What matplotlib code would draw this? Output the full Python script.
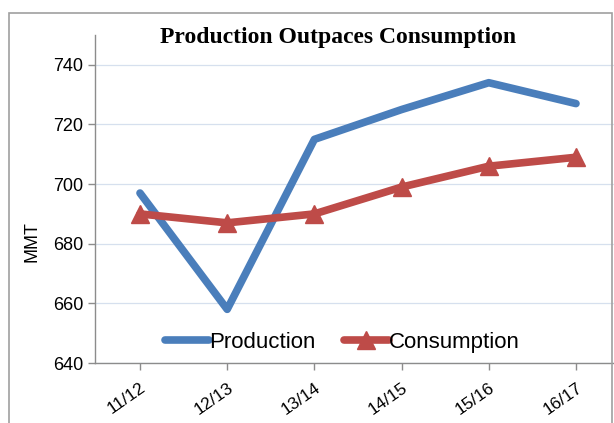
import matplotlib
matplotlib.use("Agg")
import matplotlib.pyplot as plt
from matplotlib.patches import Rectangle

years = ["11/12", "12/13", "13/14", "14/15", "15/16", "16/17"]
production = [697, 658, 715, 725, 734, 727]
consumption = [690, 687, 690, 699, 706, 709]
y_ticks = [640, 660, 680, 700, 720, 740]

BLUE = "#4A7EBB"
RED = "#BE4B48"
GRAY = "#8C8C8C"

fig = plt.figure(figsize=(6.14, 4.23), dpi=100)
ax = fig.add_axes([95 / 614, 60 / 423, 1 - 95 / 614, (363 - 35) / 423])

x = list(range(len(years)))
ax.plot(x, production, color=BLUE, linewidth=5.5, solid_capstyle="round",
        solid_joinstyle="round", label="Production")
ax.plot(x, consumption, color=RED, linewidth=5.5, solid_capstyle="round",
        solid_joinstyle="round", marker="^", markersize=13, label="Consumption")

ax.set_xlim(-0.516, 5.436)
ax.set_ylim(640, 750)
ax.set_yticks(y_ticks)
ax.set_yticklabels([str(v) for v in y_ticks], fontsize=13, family="Liberation Sans")
ax.set_xticks(x)
ax.set_xticklabels(years, rotation=35, ha="right", rotation_mode="anchor",
                   fontsize=12.5, family="Liberation Sans")
ax.grid(True, axis="y", color="#D6E0EE", linewidth=0.9)
ax.set_axisbelow(True)

for s in ["top", "right"]:
    ax.spines[s].set_visible(False)
for s in ["left", "bottom"]:
    ax.spines[s].set_color(GRAY)
    ax.spines[s].set_linewidth(1.0)
ax.tick_params(axis="both", colors=GRAY, length=5, width=1, labelcolor="black")
ax.tick_params(axis="x", pad=7)

ax.set_ylabel("MMT", fontsize=13, family="Liberation Sans")
ax.yaxis.set_label_coords(-0.105, 0.369)

ax.legend(loc="lower center", bbox_to_anchor=(0.476, -0.03), ncol=2, frameon=False,
          prop={"family": "Liberation Sans", "size": 16}, handlelength=2.0,
          handletextpad=0.0, columnspacing=1.3)

fig.text(338 / 614, 1 - 37 / 423, "Production Outpaces Consumption", ha="center",
         va="center", fontsize=17, fontweight="bold", family="Liberation Serif")

fig.patches.append(Rectangle((9 / 614, -0.1), 603 / 614, 1.1 - 13 / 423,
                             transform=fig.transFigure, fill=False,
                             edgecolor="#A0A0A0", linewidth=1.2))

fig.savefig("out.png", dpi=100)
